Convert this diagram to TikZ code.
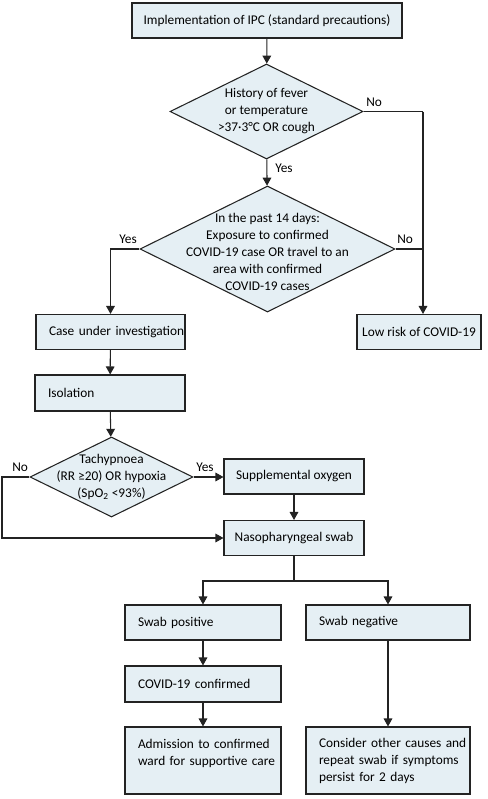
\documentclass[tikz,border=0pt]{standalone}
\usepackage{fontspec}
\setmainfont{Carlito}
\usetikzlibrary{shapes.geometric,arrows.meta}
\definecolor{boxfill}{RGB}{229,239,244}
\definecolor{boxline}{RGB}{35,35,35}

\begin{document}
\begin{tikzpicture}[x=0.75pt,y=-0.75pt,
            font=\fontsize{10}{12.75}\selectfont,
            box/.style={draw=boxline,fill=boxfill,line width=0.8pt,minimum height=26.25pt,inner sep=0pt},
            midbox/.style={box,align=center},
            leftbox/.style={box,align=left,text width=#1,execute at begin node={\leftskip=9.75pt}},
            decision/.style={diamond,draw=boxline,fill=boxfill,line width=0.8pt,inner sep=0pt},
            dtext/.style={align=center,inner sep=0pt},
            answer/.style={inner sep=0pt},
            link/.style={draw=boxline,line width=0.8pt},
            arrow/.style={link,-{Triangle[length=6pt,width=6.5pt]}}]
            \useasboundingbox (0,0) rectangle (488,799);

            \node [midbox,minimum width=202.5pt] (ipc) at (267,20.5) {Implementation of IPC (standard precautions)};
            \node [decision,minimum width=144.75pt,minimum height=71.25pt] (fever) at (266.5,111.5) {};
            \node [dtext] (fevertext) at (fever) {History of fever\\or temperature\\>37·3°C OR cough};
            \node [decision,minimum width=191.25pt,minimum height=94.5pt] (contact) at (267.5,249) {};
            \node [dtext] (contacttext) at (267.5,252) {In the past 14 days:\\Exposure to confirmed\\COVID-19 case OR travel to an\\area with confirmed\\COVID-19 cases};
            \node [leftbox=111.75pt] (suspect) at (110.5,332) {Case under investigation};
            \node [midbox,minimum width=93pt] (lowrisk) at (419,332) {Low risk of COVID-19};
            \node [leftbox=112.5pt,minimum height=27pt] (isolate) at (110,393) {Isolation};
            \node [decision,minimum width=122.25pt,minimum height=60pt] (breath) at (111.5,477) {};
            \node [dtext] (breathtext) at (breath) {Tachypnoea\\(RR ≥20) OR hypoxia\\(SpO\textsubscript{2} <93\%)};
            \node [midbox,minimum width=105pt] (oxygen) at (294,476.5) {Supplemental oxygen};
            \node [midbox,minimum width=105pt] (naso) at (294,538) {Nasopharyngeal swab};
            \node [leftbox=117pt] (positive) at (203,622.5) {Swab positive};
            \node [leftbox=123pt] (negative) at (388,622.5) {Swab negative};
            \node [leftbox=117pt,minimum height=27pt] (confirmed) at (203,684) {COVID-19 confirmed};
            \node [leftbox=117pt,minimum height=50.25pt] (admit) at (203,760.5) {Admission to confirmed\\ward for supportive care\\\mbox{}};
            \node [leftbox=123pt,minimum height=50.25pt] (other) at (388,760.5) {Consider other causes and\\repeat swab if symptoms\\persist for 2 days};

            \coordinate (nobend) at (423,111.5);
            \coordinate (leftbend) at (2,477);
            \coordinate (fork) at (294,581);

            \draw [arrow] (ipc) -- (fever);
            \draw [arrow] (fever) -- (contact);
            \draw [link] (fever.east) -- (nobend);
            \draw [arrow] (nobend) -- (nobend |- lowrisk.north);
            \draw [link] (contact.east) -- (contact.east -| nobend);
            \draw [arrow] (contact.west) -| (suspect.north);
            \draw [arrow] (suspect) -- (isolate);
            \draw [arrow] (isolate) -- (breath);
            \draw [arrow] (breath.east) -- (oxygen.west |- breath.east);
            \draw [arrow] (breath.west) -- (leftbend) |- (naso.west);
            \draw [arrow] (oxygen) -- (naso);
            \draw [link] (naso) -- (fork);
            \draw [arrow] (fork) -| (positive.north);
            \draw [arrow] (fork) -| (negative.north);
            \draw [arrow] (positive) -- (confirmed);
            \draw [arrow] (confirmed) -- (admit);
            \draw [arrow] (negative) -- (other);

            \node [answer,anchor=west] (feverno) at (366,102) {No};
            \node [answer,anchor=west] (feveryes) at (275,168) {Yes};
            \node [answer,anchor=east] (contactyes) at (137,239) {Yes};
            \node [answer,anchor=west] (contactno) at (397,239) {No};
            \node [answer,anchor=west] (breathyes) at (196,467) {Yes};
            \node [answer,anchor=west] (breathno) at (12,467) {No};
\end{tikzpicture}
\end{document}
